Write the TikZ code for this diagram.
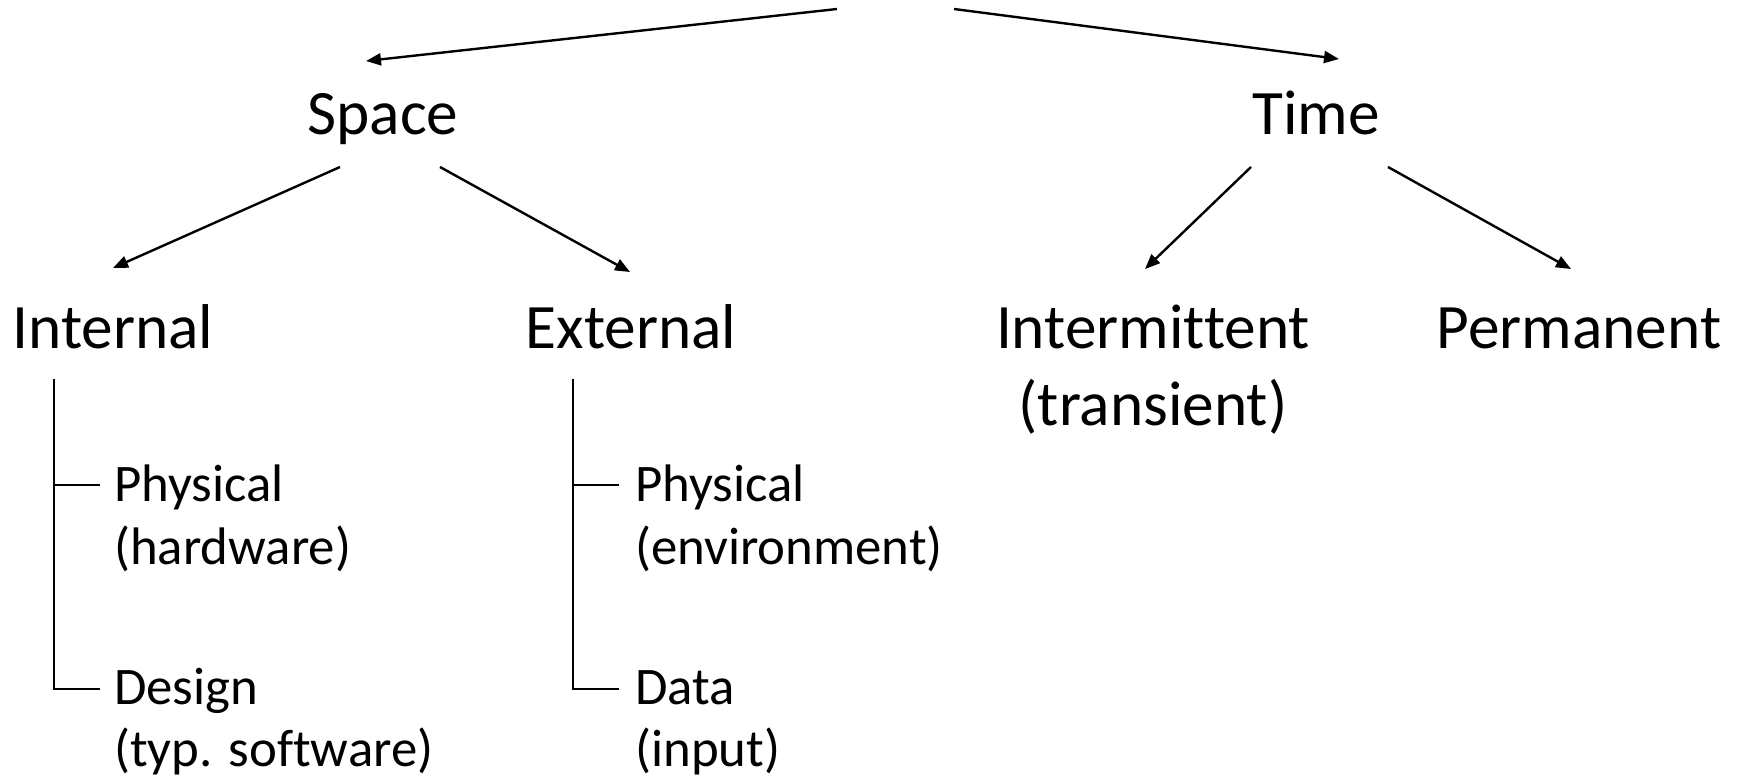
\documentclass[tikz,border=0pt]{standalone}
\usepackage{fontspec}
\setmainfont{Carlito}[Ligatures=NoCommon]
\usetikzlibrary{arrows.meta}
\begin{document}
\begin{tikzpicture}[x=1pt,y=-1pt,
  big/.style={inner sep=0pt,anchor=base,font=\fontsize{63.3}{77}\selectfont},
  small/.style={inner sep=0pt,anchor=base west,font=\fontsize{52.8}{64}\selectfont},
  arr/.style={line width=2.4pt,-{Triangle[length=15pt,width=12pt]}},
  tree/.style={line width=2pt}]
\useasboundingbox (0,0) rectangle (1739,778);
% top level
\coordinate (rootL) at (837,9);
\coordinate (rootR) at (954,9);
\node[big] (space) at (383,135) {Space};
\node[big] (time) at (1316,135) {Time};
\coordinate (spaceTip) at (366,61);
\coordinate (timeTip) at (1339,59);
\draw[arr] (rootL) -- (spaceTip);
\draw[arr] (rootR) -- (timeTip);
% second level
\node[big] (internal) at (113,348) {Internal};
\node[big] (external) at (631,348) {External};
\node[big] (intermittent) at (1153,348) {Intermittent};
\node[big] (transient) at (1153,425) {(transient)};
\node[big] (permanent) at (1579,348) {Permanent};
\coordinate (s1) at (340,167); \coordinate (s1e) at (113,268);
\coordinate (s2) at (440,167); \coordinate (s2e) at (630,272);
\coordinate (t1) at (1251,167); \coordinate (t1e) at (1145,269);
\coordinate (t2) at (1388,167); \coordinate (t2e) at (1571,269);
\draw[arr] (s1) -- (s1e);
\draw[arr] (s2) -- (s2e);
\draw[arr] (t1) -- (t1e);
\draw[arr] (t2) -- (t2e);
% internal tree
\node[small] (iphys) at (114,501) {Physical};
\node[small] (ihw) at (114,564) {(hardware)};
\node[small] (ides) at (114,704) {Design};
\node[small] (isw) at (114,766) {(typ. software)};
\coordinate (itop) at (54,379);
\coordinate (ib1) at (54,485);
\coordinate (ib2) at (54,689);
\draw[tree] (itop) -- (ib2) -- (100,689);
\draw[tree] (ib1) -- (100,485);
% external tree
\node[small] (ephys) at (635,501) {Physical};
\node[small] (eenv) at (635,564) {(environment)};
\node[small] (edata) at (635,704) {Data};
\node[small] (einp) at (635,766) {(input)};
\coordinate (etop) at (573,379);
\coordinate (eb1) at (573,485);
\coordinate (eb2) at (573,689);
\draw[tree] (etop) -- (eb2) -- (619,689);
\draw[tree] (eb1) -- (619,485);
\end{tikzpicture}
\end{document}
